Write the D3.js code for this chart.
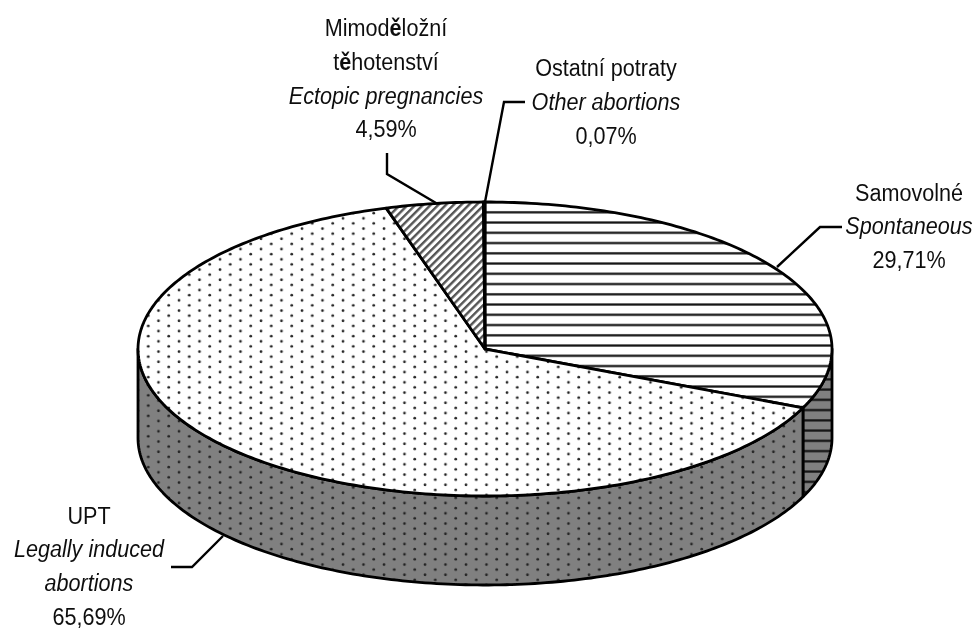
<!DOCTYPE html>
<html>
<head>
<meta charset="utf-8">
<script src="https://cdn.jsdelivr.net/npm/d3@7"></script>
<style>
  body { margin: 0; background: #fff; }
  text { font-family: "Liberation Sans", sans-serif; font-size: 24.5px; fill: #111; }
</style>
</head>
<body>
<div id="chart"></div>
<script>
// Data
const categories = ["Samovolné", "UPT", "Mimoděložní těhotenství", "Ostatní potraty"];
const values = [29.71, 65.69, 4.59, 0.07];
const patternIds = ["lines", "dots", "diag", "diag"];
const labelLines = [
  [["Samovolné", false], ["Spontaneous", true], ["29,71%", false]],
  [["UPT", false], ["Legally induced", true], ["abortions", true], ["65,69%", false]],
  [["Mimoděložní", false], ["těhotenství", false], ["Ectopic pregnancies", true], ["4,59%", false]],
  [["Ostatní potraty", false], ["Other abortions", true], ["0,07%", false]]
];

const width = 976, height = 630, depth = 89;

const svg = d3.select("#chart").append("svg")
    .attr("width", width)
    .attr("height", height)
    .style("display", "block");

// Unit circle onto the tilted ellipse
const x = d3.scaleLinear().domain([-1, 1]).range([138, 832]);
const y = d3.scaleLinear().domain([-1, 1]).range([496, 202]);

// Pie keeps clockwise from 12 o'clock; warp mimics the 3D perspective of the original
const warp = a => a + 0.1815 * (1 - Math.cos(a)) / 2;
const arcs = d3.pie().sort(null)(values).map(d => ({
  start: warp(d.startAngle),
  end: warp(d.endAngle),
  i: d.index
}));

const px = a => x(Math.sin(a));
const py = a => y(Math.cos(a));

function sample(a0, a1) {
  const n = Math.max(2, Math.ceil(Math.abs(a1 - a0) * 60));
  return d3.range(n + 1).map(k => a0 + (a1 - a0) * k / n);
}

const line = d3.line();

// Patterns
const defs = svg.append("defs");

// the reference is a slightly soft scan
defs.append("filter").attr("id", "soft")
  .attr("x", 0).attr("y", 0).attr("width", 1).attr("height", 1)
  .attr("filterUnits", "objectBoundingBox")
  .append("feGaussianBlur").attr("stdDeviation", 0.45);

function linesPattern(id, bg, offset) {
  const p = defs.append("pattern").attr("id", id)
    .attr("patternUnits", "userSpaceOnUse")
    .attr("width", 10).attr("height", 10.25)
    .attr("y", offset);
  p.append("rect").attr("width", 10).attr("height", 10.25).attr("fill", bg);
  p.append("rect").attr("y", 4).attr("width", 10).attr("height", 2.2).attr("fill", "#111");
}
linesPattern("lines", "#fff", 207.2);
linesPattern("lines-side", "#808080", 405);

function dotsPattern(id, bg, px0, py0) {
  const p = defs.append("pattern").attr("id", id)
    .attr("patternUnits", "userSpaceOnUse")
    .attr("width", 20.5).attr("height", 10.25)
    .attr("x", px0).attr("y", py0);
  p.append("rect").attr("width", 20.5).attr("height", 10.25).attr("fill", bg);
  p.append("circle").attr("cx", 5).attr("cy", 2.5).attr("r", 1.35).attr("fill", "#222");
  p.append("circle").attr("cx", 15.25).attr("cy", 7.6).attr("r", 1.35).attr("fill", "#222");
}
dotsPattern("dots", "#fff", 379, 215.8);
dotsPattern("dots-side", "#808080", 379, 213.5);

const diag = defs.append("pattern").attr("id", "diag")
  .attr("patternUnits", "userSpaceOnUse")
  .attr("width", 5.4).attr("height", 5.4)
  .attr("patternTransform", "rotate(45)");
diag.append("rect").attr("width", 5.4).attr("height", 5.4).attr("fill", "#fff");
diag.append("rect").attr("width", 2.4).attr("height", 5.4).attr("fill", "#555");

const root = svg.append("g").attr("filter", "url(#soft)");
root.append("rect").attr("width", width).attr("height", height).attr("fill", "#fff");

// Side wall: only the part of each slice on the front half shows
const g = root.append("g")
  .attr("stroke", "#000")
  .attr("stroke-width", 2.8)
  .attr("stroke-linejoin", "round");

arcs.forEach(d => {
  const a0 = Math.max(d.start, Math.PI / 2), a1 = Math.min(d.end, 3 * Math.PI / 2);
  if (a1 <= a0) return;
  const top = sample(a0, a1).map(a => [px(a), py(a)]);
  const bottom = sample(a1, a0).map(a => [px(a), py(a) + depth]);
  g.append("path")
    .attr("d", line(top.concat(bottom)) + "Z")
    .attr("fill", `url(#${patternIds[d.i]}-side)`);
});

// Top face
arcs.forEach(d => {
  const pts = [[x(0), y(0)]].concat(sample(d.start, d.end).map(a => [px(a), py(a)]));
  g.append("path")
    .attr("d", line(pts) + "Z")
    .attr("fill", `url(#${patternIds[d.i]})`);
});

// Leader lines
const leaders = [
  [[777, 267], [820, 227], [842, 227]],
  [[223, 536], [192, 567], [171, 567]],
  [[436, 203], [387, 174], [387, 153]],
  [[485, 202], [504, 102], [525, 102]]
];
root.append("g").selectAll("path").data(leaders).join("path")
  .attr("d", line)
  .attr("fill", "none")
  .attr("stroke", "#000")
  .attr("stroke-width", 2.4);

// Labels: first baseline per label, the font is squeezed to look like Arial Narrow
const labelPos = [[909, 200.5], [89, 523.5], [386, 36], [606, 76]];
const lineStep = 33.8;
labelLines.forEach((rows, i) => {
  root.append("g").selectAll("text").data(rows).join("text")
    .attr("transform", (d, k) => `translate(${labelPos[i][0]},${labelPos[i][1] + k * lineStep}) scale(0.882,1)`)
    .attr("text-anchor", "middle")
    .style("font-style", d => d[1] ? "italic" : "normal")
    .each(function(d) {
      // the caron letter comes out heavier in the original
      d[0].split(/(ě)/).forEach(part => {
        if (part) d3.select(this).append("tspan")
          .style("font-weight", part === "ě" ? "bold" : null)
          .text(part);
      });
    });
});
</script>
</body>
</html>
